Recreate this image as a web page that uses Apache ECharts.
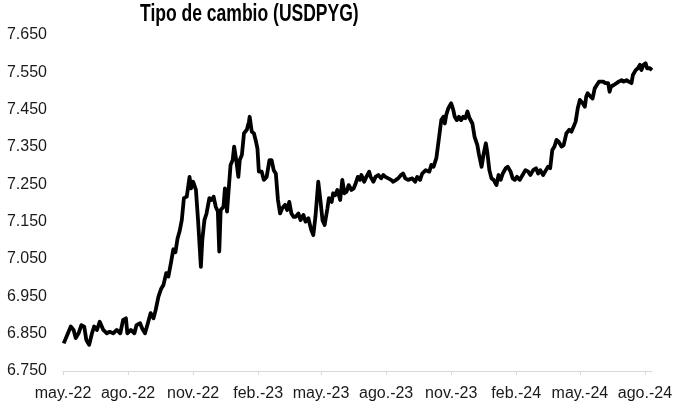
<!DOCTYPE html>
<html>
<head>
<meta charset="utf-8">
<script src="https://cdn.jsdelivr.net/npm/echarts@6/dist/echarts.min.js"></script>
<style>
html,body{margin:0;padding:0;background:#fff;}
#chart{width:676px;height:412px;}
</style>
</head>
<body>
<div id="chart"></div>
<script>
var dates = [
'2022-05-02','2022-05-04','2022-05-08','2022-05-12','2022-05-16','2022-05-19','2022-05-23','2022-05-27','2022-05-31',
'2022-06-03','2022-06-07','2022-06-11','2022-06-14','2022-06-18','2022-06-22','2022-06-27',
'2022-07-02','2022-07-06','2022-07-11','2022-07-16','2022-07-21','2022-07-25','2022-07-29','2022-07-31',
'2022-08-05','2022-08-10','2022-08-13','2022-08-18','2022-08-21','2022-08-25','2022-08-29',
'2022-09-02','2022-09-06','2022-09-09','2022-09-13','2022-09-17','2022-09-20','2022-09-24','2022-09-27',
'2022-10-01','2022-10-04','2022-10-07','2022-10-10','2022-10-13','2022-10-16','2022-10-19','2022-10-23','2022-10-27','2022-10-29',
'2022-11-01','2022-11-05','2022-11-08','2022-11-12','2022-11-14','2022-11-17','2022-11-20','2022-11-24','2022-11-27','2022-11-30',
'2022-12-03','2022-12-06','2022-12-08','2022-12-10','2022-12-14','2022-12-16','2022-12-19','2022-12-22','2022-12-24','2022-12-27','2022-12-29',
'2023-01-01','2023-01-04','2023-01-06','2023-01-09','2023-01-12','2023-01-16','2023-01-19','2023-01-20','2023-01-23','2023-01-26','2023-01-29','2023-01-31',
'2023-02-02','2023-02-06','2023-02-09','2023-02-13','2023-02-17','2023-02-20','2023-02-23','2023-02-26',
'2023-03-01','2023-03-04','2023-03-07','2023-03-11','2023-03-14','2023-03-17','2023-03-20','2023-03-23','2023-03-26','2023-03-30',
'2023-04-02','2023-04-06','2023-04-09','2023-04-13','2023-04-17','2023-04-20','2023-04-23','2023-04-27','2023-04-30',
'2023-05-03','2023-05-06','2023-05-10','2023-05-12','2023-05-16','2023-05-18','2023-05-21','2023-05-24','2023-05-28','2023-05-31',
'2023-06-03','2023-06-06','2023-06-09','2023-06-13','2023-06-16','2023-06-19','2023-06-22','2023-06-25','2023-06-27',
'2023-07-01','2023-07-04','2023-07-08','2023-07-10','2023-07-14','2023-07-17','2023-07-21','2023-07-25','2023-07-28','2023-07-31',
'2023-08-04','2023-08-08','2023-08-11','2023-08-15','2023-08-18','2023-08-22','2023-08-25','2023-08-28',
'2023-09-01','2023-09-03','2023-09-07','2023-09-11','2023-09-14','2023-09-18','2023-09-21','2023-09-26',
'2023-10-01','2023-10-04','2023-10-07','2023-10-11','2023-10-15','2023-10-18','2023-10-21','2023-10-23','2023-10-25','2023-10-28','2023-10-30',
'2023-11-01','2023-11-04','2023-11-06','2023-11-09','2023-11-12','2023-11-15','2023-11-18','2023-11-21','2023-11-24','2023-11-27',
'2023-12-01','2023-12-04','2023-12-08','2023-12-10','2023-12-14','2023-12-17','2023-12-20','2023-12-22','2023-12-25','2023-12-28','2023-12-31',
'2024-01-04','2024-01-07','2024-01-10','2024-01-13','2024-01-17','2024-01-20','2024-01-24','2024-01-27','2024-01-30',
'2024-02-02','2024-02-06','2024-02-10','2024-02-14','2024-02-18','2024-02-21','2024-02-25','2024-02-29',
'2024-03-03','2024-03-06','2024-03-10','2024-03-14','2024-03-17','2024-03-20','2024-03-23','2024-03-26','2024-03-29',
'2024-04-01','2024-04-05','2024-04-08','2024-04-12','2024-04-16','2024-04-19','2024-04-22','2024-04-25','2024-04-28',
'2024-05-01','2024-05-03','2024-05-05','2024-05-08','2024-05-10','2024-05-12','2024-05-16','2024-05-19','2024-05-22','2024-05-25','2024-05-28','2024-05-30',
'2024-06-03','2024-06-06','2024-06-10','2024-06-12','2024-06-14','2024-06-18','2024-06-22','2024-06-25','2024-06-29',
'2024-07-02','2024-07-06','2024-07-09','2024-07-13','2024-07-15','2024-07-19','2024-07-22','2024-07-25','2024-07-27','2024-07-30',
'2024-08-02','2024-08-04','2024-08-08','2024-08-11'
];
var rates = [
6824,6820,6851,6869,6860,6838,6851,6873,6869,
6833,6820,6851,6869,6860,6882,6860,
6851,6855,6851,6860,6851,6887,6891,6851,
6860,6851,6873,6878,6864,6851,6878,
6905,6891,6913,6949,6971,6980,7012,7003,
7043,7076,7068,7105,7125,7154,7213,7217,7270,7239,
7257,7235,7154,7029,7101,7154,7172,7213,7208,7217,
7190,7177,7070,7181,7190,7239,7177,7253,7302,7315,7351,
7315,7270,7315,7329,7387,7396,7418,7431,7391,7387,7364,7346,
7284,7284,7262,7270,7315,7315,7288,7279,
7208,7172,7186,7195,7181,7203,7172,7163,7163,7172,
7154,7168,7150,7159,7128,7114,7163,7257,7208,
7154,7141,7186,7213,7203,7226,7221,7235,7208,7262,
7226,7230,7248,7235,7239,7253,7270,7262,7275,
7257,7270,7284,7270,7257,7270,7275,7266,7275,7270,
7266,7262,7257,7262,7266,7275,7279,7266,
7262,7257,7266,7257,7270,7262,7279,7288,
7284,7302,7297,7320,7378,7422,7431,7413,7436,7454,7449,
7467,7449,7431,7422,7431,7422,7431,7427,7445,7427,
7413,7378,7355,7333,7297,7333,7360,7337,7288,7266,7262,
7248,7275,7262,7279,7293,7297,7284,7266,7262,
7270,7262,7275,7288,7284,7275,7288,7293,
7279,7288,7275,7288,7297,7293,7342,7351,7369,
7364,7351,7355,7387,7396,7391,7404,7418,7454,
7476,7480,7467,7458,7485,7494,7485,7480,7507,7516,7525,7529,
7525,7521,7521,7498,7512,7516,7521,7525,7529,
7525,7529,7525,7521,7543,7556,7561,7570,7556,7570,
7574,7561,7561,7556
];
var tickDates = ['2022-05-01','2022-08-01','2022-11-01','2023-02-01','2023-05-01','2023-08-01','2023-11-01','2024-02-01','2024-05-01','2024-08-01'];
var tickLabels = ['may.-22','ago.-22','nov.-22','feb.-23','may.-23','ago.-23','nov.-23','feb.-24','may.-24','ago.-24'];
var yLabels = ['6.750','6.850','6.950','7.050','7.150','7.250','7.350','7.450','7.550','7.650'];
var titleText = 'Tipo de cambio (USDPYG)';
var yMin = 6750, yMax = 7650;
var xMinDate = '2022-05-01', xMaxDate = '2024-08-11';

function ts(s){ var p = s.split('-'); return Date.UTC(+p[0], +p[1]-1, +p[2]); }
var tickTimes = tickDates.map(ts);
var seriesData = dates.map(function(d,i){ return [ts(d), rates[i]]; });

var chart = echarts.init(document.getElementById('chart'), null, {renderer:'canvas'});
chart.setOption({
  animation:false,
  backgroundColor:'#ffffff',
  graphic:[{
    type:'text', x:140, y:14, scaleX:0.73, scaleY:1,
    style:{
      text:titleText, fill:'#000',
      font:'bold 24px "Liberation Sans", Arial, sans-serif',
      textAlign:'left', textVerticalAlign:'middle'
    }
  }],
  grid:{left:63, right:24, top:35, bottom:41, containLabel:false},
  xAxis:{
    type:'value',
    min:ts(xMinDate), max:ts(xMaxDate),
    axisLine:{show:true, lineStyle:{color:'#d9d9d9', width:1}},
    axisTick:{show:true, customValues:tickTimes, length:4, lineStyle:{color:'#d9d9d9'}},
    splitLine:{show:false},
    axisLabel:{
      customValues:tickTimes,
      margin:15,
      fontFamily:'Liberation Sans, Arial, sans-serif', fontSize:16, color:'#1a1a1a',
      formatter:function(v){ var i = tickTimes.indexOf(v); return i>=0 ? tickLabels[i] : ''; },
      showMinLabel:true, showMaxLabel:true
    }
  },
  yAxis:{
    type:'value', min:yMin, max:yMax, interval:50,
    axisLine:{show:false}, axisTick:{show:false}, splitLine:{show:false},
    axisLabel:{
      margin:16,
      fontFamily:'Liberation Sans, Arial, sans-serif', fontSize:16, color:'#1a1a1a',
      formatter:function(v){ var k = Math.round((v - yMin)/100); return ((v - yMin) % 100 === 0) ? yLabels[k] : ''; }
    }
  },
  series:[{
    type:'line', data:seriesData, showSymbol:false, symbol:'none',
    lineStyle:{color:'#000', width:3.8, join:'round'},
    smooth:false
  }]
});
</script>
</body>
</html>
